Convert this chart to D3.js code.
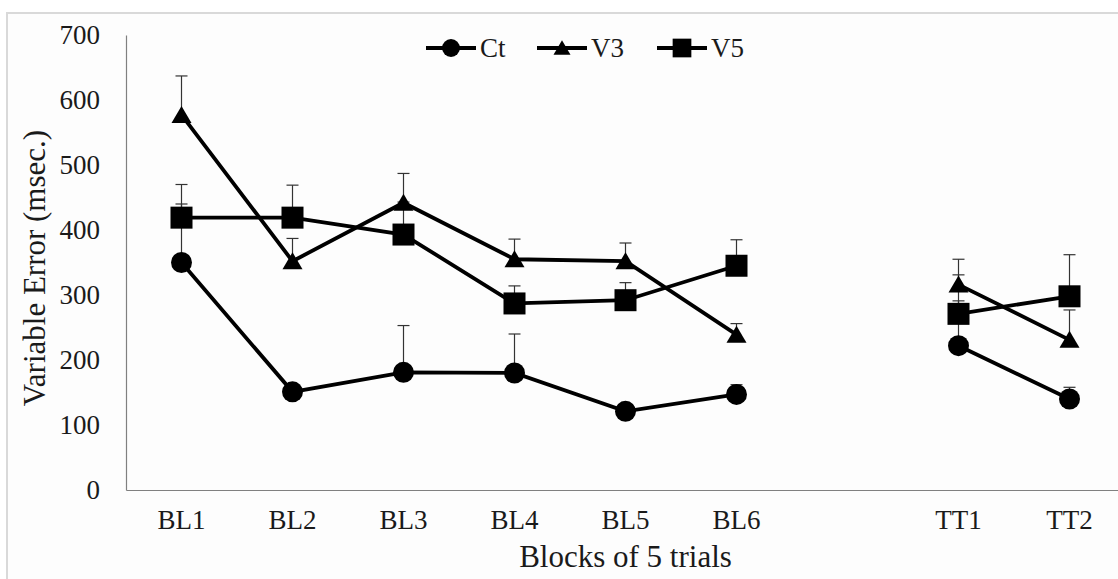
<!DOCTYPE html>
<html>
<head>
<meta charset="utf-8">
<script src="https://cdn.jsdelivr.net/npm/d3@7"></script>
<style>
  body { margin: 0; background: #fff; }
  svg { display: block; font-family: "Liberation Serif", "Times New Roman", serif; }
</style>
</head>
<body>
<div id="chart"></div>
<script>
// blocks, with one empty slot between BL6 and TT1
const categories = ["BL1", "BL2", "BL3", "BL4", "BL5", "BL6", "", "TT1", "TT2"];
const yTicks = [0, 100, 200, 300, 400, 500, 600, 700];

const ctValues = [350, 151, 181, 180, 121, 147, null, 222, 140];
const ctErrors = [90, 8, 72, 60, 5, 15, null, 109, 18];
const v3Values = [577, 352, 442, 355, 352, 239, null, 316, 231];
const v3Errors = [60, 35, 45, 31, 28, 17, null, 39, 46];
const v5Values = [419, 419, 393, 287, 292, 345, null, 271, 298];
const v5Errors = [51, 50, 50, 27, 27, 40, null, 20, 64];

const seriesNames = ["Ct", "V3", "V5"];

(function() {
  const W = 1118, H = 579;
  const left = 126, top = 35, bottom = 490;

  const svg = d3.select("#chart").append("svg")
    .attr("width", W)
    .attr("height", H);

  // light frame around chart area
  svg.append("rect")
    .attr("x", 7).attr("y", 13)
    .attr("width", W + 20).attr("height", H + 20)
    .attr("fill", "#fdfdfd")
    .attr("stroke", "#d9d9d9")
    .attr("stroke-width", 2);

  const x = d3.scaleBand()
    .domain(categories)
    .range([left, left + 111 * categories.length])
    .padding(0);

  const y = d3.scaleLinear()
    .domain([0, 700])
    .range([bottom, top]);

  const cx = c => x(c) + x.bandwidth() / 2;

  // axes
  const yAxis = svg.append("g")
    .attr("transform", `translate(${left},0)`)
    .call(d3.axisLeft(y).tickValues(yTicks).tickSize(0).tickPadding(26));
  yAxis.select(".domain").attr("stroke", "#808080").attr("stroke-width", 1.2);
  yAxis.selectAll("text")
    .attr("font-size", 27)
    .attr("fill", "#1a1a1a")
    .attr("font-family", "Liberation Serif");

  const xAxis = svg.append("g")
    .attr("transform", `translate(0,${bottom})`)
    .call(d3.axisBottom(x).tickSize(0).tickPadding(20));
  xAxis.select(".domain").attr("stroke", "#808080").attr("stroke-width", 1.2);
  xAxis.selectAll("text")
    .attr("font-size", 27)
    .attr("fill", "#1a1a1a")
    .attr("font-family", "Liberation Serif");

  svg.append("text")
    .attr("x", (left + x.range()[1]) / 2).attr("y", 567)
    .attr("text-anchor", "middle")
    .attr("font-size", 31)
    .attr("fill", "#1a1a1a")
    .text("Blocks of 5 trials");

  svg.append("text")
    .attr("transform", "translate(45,268) rotate(-90)")
    .attr("text-anchor", "middle")
    .attr("font-size", 31)
    .attr("fill", "#1a1a1a")
    .text("Variable Error (msec.)");

  const series = [
    {name: "Ct", values: ctValues, errors: ctErrors, shape: "circle"},
    {name: "V3", values: v3Values, errors: v3Errors, shape: "triangle"},
    {name: "V5", values: v5Values, errors: v5Errors, shape: "square"}
  ];

  const drawMarker = function(g, shape, s) {
    if (shape === "circle") {
      g.append("circle").attr("r", 10.5 * s).attr("fill", "#000");
    } else if (shape === "square") {
      g.append("rect")
        .attr("x", -11 * s).attr("y", -11 * s)
        .attr("width", 22 * s).attr("height", 22 * s)
        .attr("fill", "#000");
    } else {
      g.append("path")
        .attr("d", `M0,${-9 * s}L${10 * s},${8 * s}L${-10 * s},${8 * s}Z`)
        .attr("fill", "#000");
    }
  };

  // error bars (upward only)
  series.forEach(sr => {
    const pts = categories.map((c, i) => ({c, v: sr.values[i], e: sr.errors[i]}))
      .filter(d => d.v != null);
    const eg = svg.append("g").attr("stroke", "#333").attr("stroke-width", 1.2);
    pts.forEach(d => {
      eg.append("line")
        .attr("x1", cx(d.c)).attr("x2", cx(d.c))
        .attr("y1", y(d.v)).attr("y2", y(d.v + d.e));
      eg.append("line")
        .attr("x1", cx(d.c) - 6).attr("x2", cx(d.c) + 6)
        .attr("y1", y(d.v + d.e)).attr("y2", y(d.v + d.e));
    });
  });

  // lines and markers
  series.forEach(sr => {
    const pts = categories.map((c, i) => ({c, v: sr.values[i]}));
    const line = d3.line()
      .defined(d => d.v != null)
      .x(d => cx(d.c))
      .y(d => y(d.v));
    svg.append("path")
      .datum(pts)
      .attr("fill", "none")
      .attr("stroke", "#000")
      .attr("stroke-width", 3.8)
      .attr("d", line);

    pts.filter(d => d.v != null).forEach(d => {
      const g = svg.append("g").attr("transform", `translate(${cx(d.c)},${y(d.v)})`);
      drawMarker(g, sr.shape, 1);
    });
  });

  // legend
  const legendX = [426, 537, 657];
  series.forEach((sr, i) => {
    const lg = svg.append("g").attr("transform", `translate(${legendX[i]},48)`);
    lg.append("line")
      .attr("x1", 0).attr("x2", 50)
      .attr("stroke", "#000").attr("stroke-width", 3.8);
    const m = lg.append("g").attr("transform", "translate(25,0)");
    drawMarker(m, sr.shape, 0.85);
    lg.append("text")
      .attr("x", 54).attr("y", 9)
      .attr("font-size", 27)
      .attr("fill", "#1a1a1a")
      .text(seriesNames[i]);
  });
})();
</script>
</body>
</html>
